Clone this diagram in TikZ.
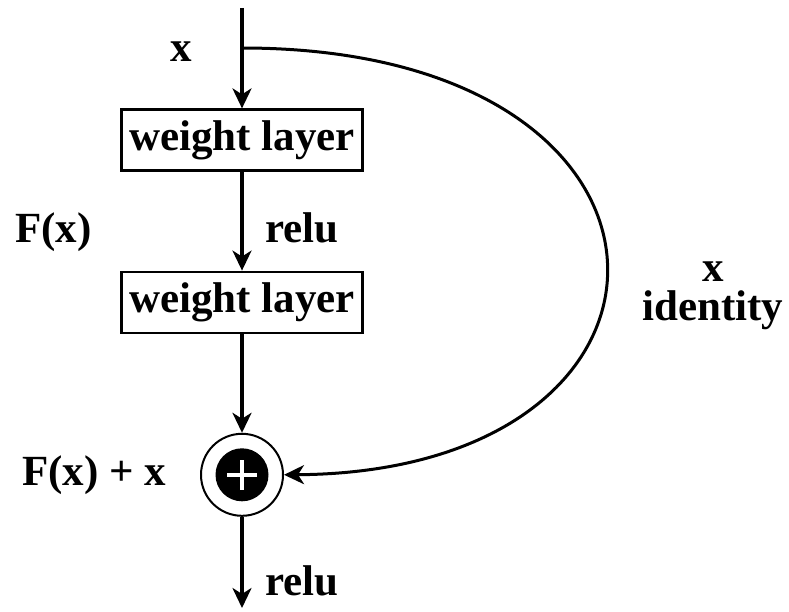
\documentclass[tikz,border=0pt]{standalone}
\usepackage{fontspec}
\setmainfont{Liberation Serif}
\usepackage{tikz}
\usetikzlibrary{arrows.meta,positioning}

\begin{document}
\begin{tikzpicture}[x=1pt, y=-1pt,
      node distance=99pt,
      capa/.style={rectangle, draw, line width=2.2pt, minimum width=241pt,
                   minimum height=61pt, inner sep=0pt,
                   font=\fontsize{43}{46}\selectfont\bfseries},
      etiq/.style={inner sep=0pt, anchor=base west,
                   font=\fontsize{43}{46}\selectfont\bfseries},
      suma/.style={circle, draw, line width=2pt, minimum size=82pt, inner sep=0pt},
      flecha/.style={-{Stealth[length=20pt, width=19pt, inset=6pt]}, line width=3.3pt}]

    \useasboundingbox (0,0) rectangle (789,612);

    \coordinate (in) at (242,8);
    \coordinate (split) at (242,48);
    \node[capa] (w1) at (242,140) {weight layer};
    \node[capa, below=of w1] (w2) {weight layer};
    \node[suma, below=of w2] (sum) {};
    \coordinate (out) at (242,608);

    % plus sign
    \fill (sum.center) circle[radius=26.5pt];
    \draw[white, line width=4pt] ([xshift=-15pt]sum.center) -- ([xshift=15pt]sum.center);
    \draw[white, line width=4pt] ([yshift=-15pt]sum.center) -- ([yshift=15pt]sum.center);

    \draw[flecha] (in) -- (w1);
    \draw[flecha] (w1) -- (w2);
    \draw[flecha] (w2) -- (sum);
    \draw[flecha] (sum) -- (out);
    \draw[flecha, line width=3pt] (split) .. controls (720,48) and (720,472) .. (sum.east);

    \node[etiq] (lx) at (170,62) {x};
    \node[etiq] (lf) at (15,243) {F(x)};
    \node[etiq] (r1) at (265,243) {relu};
    \node[etiq] (lfx) at (22,485) {F(x) + x};
    \node[etiq] (r2) at (265,595) {relu};
    \node[inner sep=0pt, align=center, font=\fontsize{43}{39}\selectfont\bfseries]
         (id) at (713,296) {x\\identity};
  \end{tikzpicture}
\end{document}
